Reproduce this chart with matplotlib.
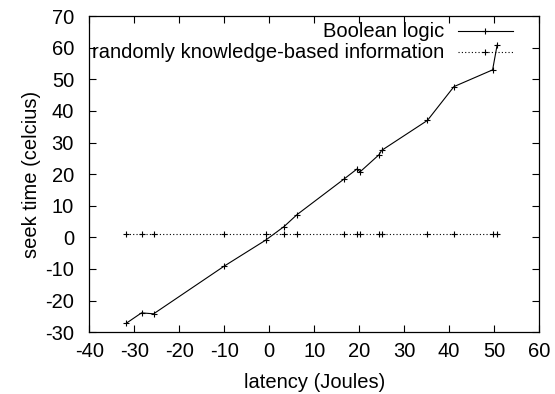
import matplotlib
matplotlib.use("Agg")
import matplotlib.pyplot as plt

# measurements
latency = [-31.8, -28.4, -25.7, -10.0, -0.8, 3.3, 6.2, 16.6, 19.6, 20.2,
           24.4, 25.0, 35.2, 41.1, 49.7, 50.7]
boolean_logic = [-27.2, -23.9, -24.2, -9.1, -0.9, 3.4, 7.2, 18.4, 21.7, 20.7,
                 26.1, 27.5, 37.0, 47.7, 53.0, 60.8]
random_info = [0.95] * len(latency)

series_labels = ["Boolean logic", "randomly knowledge-based information"]

plt.rcParams['font.family'] = ['Liberation Sans', 'DejaVu Sans']
plt.rcParams['axes.unicode_minus'] = False
FS = 14.5

fig = plt.figure(figsize=(5.55, 3.94), dpi=100)
ax = fig.add_axes([0.161, 0.157, 0.81, 0.802])

mk = dict(marker='+', markersize=5, markeredgewidth=0.8)
ax.plot(latency, boolean_logic, color='black', linewidth=0.8, **mk)
ax.plot(latency, random_info, color='black', linewidth=0.8,
        linestyle=(0, (1, 2)), **mk)

ax.set_xlim(-40, 60)
ax.set_ylim(-30, 70)
ax.set_xticks(range(-40, 61, 10))
ax.set_yticks(range(-30, 71, 10))
ax.tick_params(direction='in', length=5, width=0.8, top=True, right=True,
               labelsize=FS)
ax.tick_params(axis='x', pad=7)
ax.tick_params(axis='y', pad=11)
for s in ax.spines.values():
    s.set_linewidth(0.9)

ax.set_xlabel("latency (Joules)", fontsize=FS, labelpad=9)
ax.set_ylabel("seek time (celcius)", fontsize=FS, labelpad=3)

# key in the top right corner, gnuplot style
rows = [(0.953, '-'), (0.886, (0, (1, 2)))]
for (ky, ls), label in zip(rows, series_labels):
    ax.text(0.790, ky, label, transform=ax.transAxes, ha='right', va='center',
            fontsize=FS, clip_on=False)
    ax.plot([0.819, 0.942], [ky, ky], transform=ax.transAxes, color='black',
            linewidth=0.8, linestyle=ls, clip_on=False)
    ax.plot([0.88], [ky], transform=ax.transAxes, color='black',
            clip_on=False, **mk)

fig.savefig("out.png", dpi=100)
